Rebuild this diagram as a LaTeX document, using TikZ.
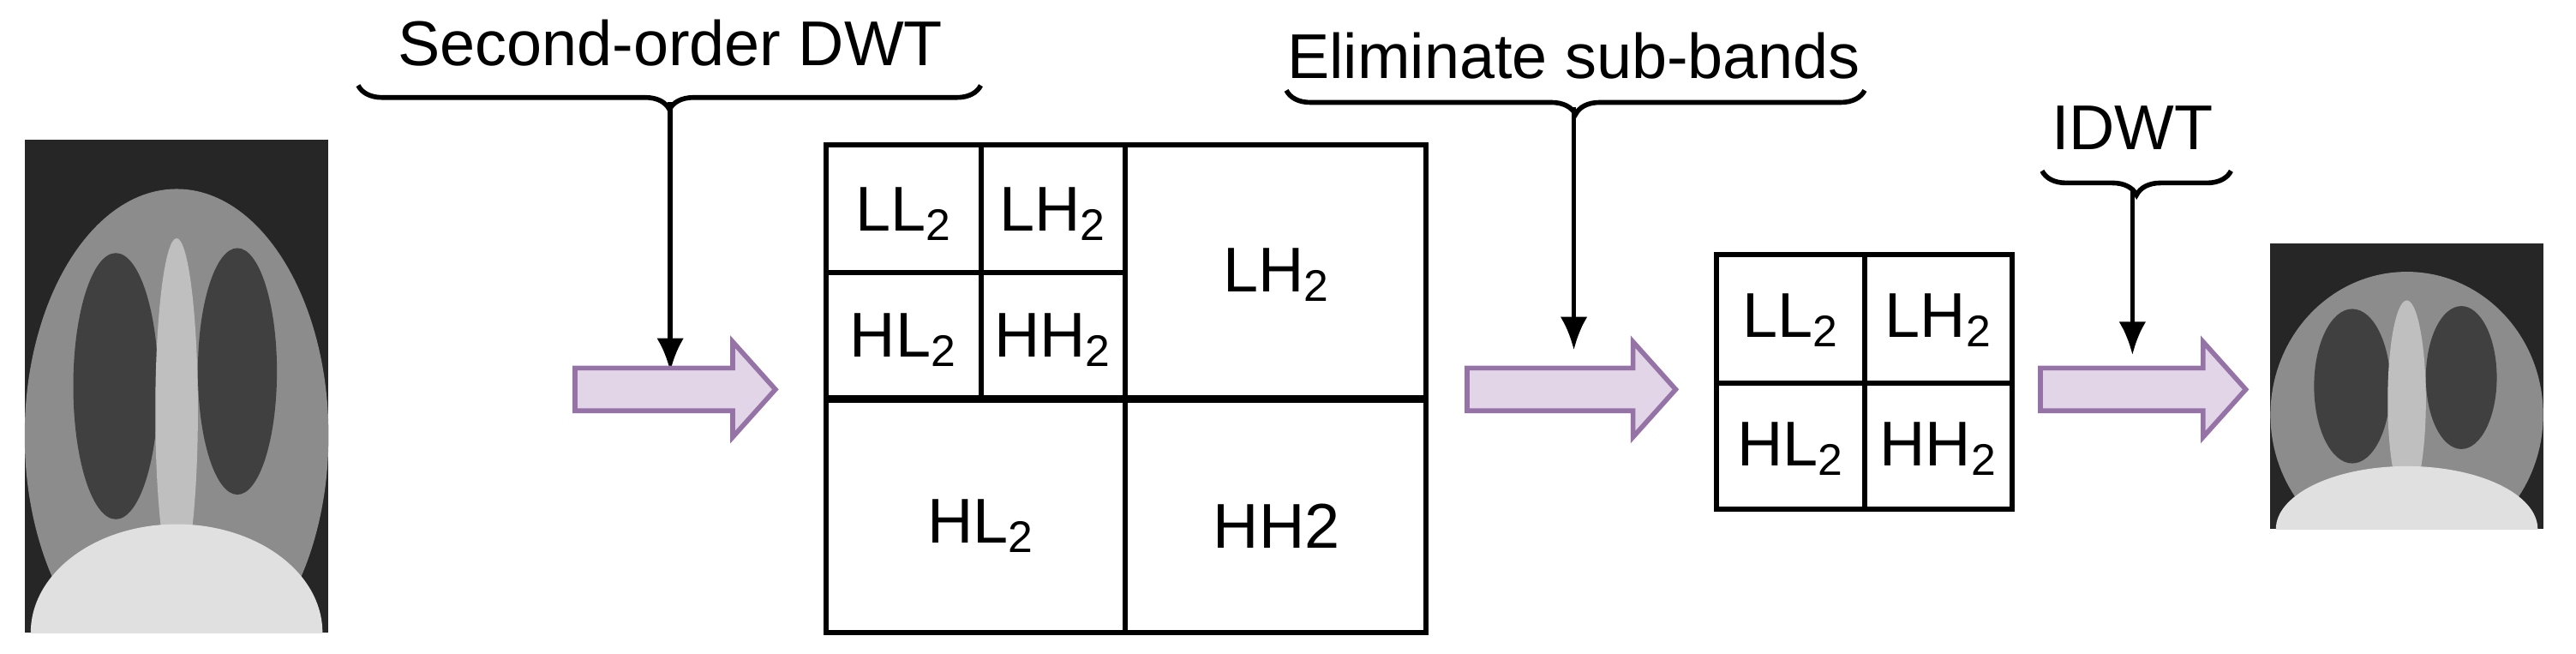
\documentclass[tikz,border=0pt]{standalone}
\usepackage{fontspec}
\setmainfont{Liberation Sans}
\usetikzlibrary{decorations.pathreplacing,arrows.meta}
\definecolor{pfill}{HTML}{E1D5E7}
\definecolor{pline}{HTML}{9673A6}
\tikzset{
 grid/.style={line width=1.7pt},
 lab/.style={font=\fontsize{21}{24}\selectfont},
 brc/.style={decorate,decoration={brace,mirror,amplitude=8pt},line width=1.6pt},
 dn/.style={-{Latex[length=11pt,width=9pt]},line width=1.6pt},
 parr/.style={fill=pfill,draw=pline,line width=1.6pt,line join=miter}
}
\newcommand{\sub}[1]{\textsubscript{#1}}
\newcommand{\parrow}[2]{% x0, x1 (tip), y centre 237
 \draw[parr] (#1,224)--(#2-26,224)--(#2-26,208)--(#2,237)--(#2-26,266)--(#2-26,250)--(#1,250)--cycle;}
\newcommand{\xray}[4]{% x0 y0 x1 y1
 \fill[black!85] (#1,#2) rectangle (#3,#4);
 \begin{scope}
 \clip (#1,#2) rectangle (#3,#4);
 \fill[black!45] ({#1+0.5*(#3-#1)},{#2+0.6*(#4-#2)}) ellipse [x radius={0.5*(#3-#1)}, y radius={0.5*(#4-#2)}];
 \fill[black!75] ({#1+0.3*(#3-#1)},{#2+0.5*(#4-#2)}) ellipse [x radius={0.14*(#3-#1)}, y radius={0.27*(#4-#2)}];
 \fill[black!75] ({#1+0.7*(#3-#1)},{#2+0.47*(#4-#2)}) ellipse [x radius={0.13*(#3-#1)}, y radius={0.25*(#4-#2)}];
 \fill[black!25] ({#1+0.5*(#3-#1)},{#2+0.55*(#4-#2)}) ellipse [x radius={0.07*(#3-#1)}, y radius={0.35*(#4-#2)}];
 \fill[black!12] ({#1+0.5*(#3-#1)},{#4}) ellipse [x radius={0.48*(#3-#1)}, y radius={0.22*(#4-#2)}];
 \end{scope}}
\begin{document}
\begin{tikzpicture}[x=0.01917cm,y=-0.01917cm]
\useasboundingbox (0,0) rectangle (1568,398);
\xray{15}{85}{200}{385}
\xray{1382}{148}{1548}{322}
% first brace
\node[lab] (t1) at (408,26) {Second-order DWT};
\draw[brc] (218,52) -- (597,52);
\coordinate (b1) at (408,62);
\coordinate (e1) at (408,226);
\draw[dn] (b1) -- (e1);
\parrow{350}{472}
% big grid
\draw[grid] (503,88) rectangle (868,385);
\draw[grid] (685,88) -- (685,385);
\draw[line width=2.6pt] (503,243) -- (868,243);
\draw[grid] (597,88) -- (597,243);
\draw[grid] (503,166) -- (685,166);
\node[lab] (a1) at (550,130) {LL\sub{2}};
\node[lab] (a2) at (641,130) {LH\sub{2}};
\node[lab] (a3) at (550,207) {HL\sub{2}};
\node[lab] (a4) at (641,207) {HH\sub{2}};
\node[lab] (a5) at (777,167) {LH\sub{2}};
\node[lab] (a6) at (597,320) {HL\sub{2}};
\node[lab] (a7) at (777,320) {HH2};
% second brace
\node[lab] (t2) at (958,34) {Eliminate sub-bands};
\draw[brc] (783,55) -- (1135,55);
\coordinate (b2) at (958,65);
\coordinate (e2) at (958,213);
\draw[dn] (b2) -- (e2);
\parrow{893}{1020}
% small grid
\draw[grid] (1045,155) rectangle (1225,310);
\draw[grid] (1135,155) -- (1135,310);
\draw[grid] (1045,233) -- (1225,233);
\node[lab] (c1) at (1090,195) {LL\sub{2}};
\node[lab] (c2) at (1180,195) {LH\sub{2}};
\node[lab] (c3) at (1090,273) {HL\sub{2}};
\node[lab] (c4) at (1180,273) {HH\sub{2}};
% third brace
\node[lab] (t3) at (1298,78) {IDWT};
\draw[brc] (1243,104) -- (1358,104);
\coordinate (b3) at (1298,114);
\coordinate (e3) at (1298,216);
\draw[dn] (b3) -- (e3);
\parrow{1242}{1367}
\end{tikzpicture}
\end{document}
